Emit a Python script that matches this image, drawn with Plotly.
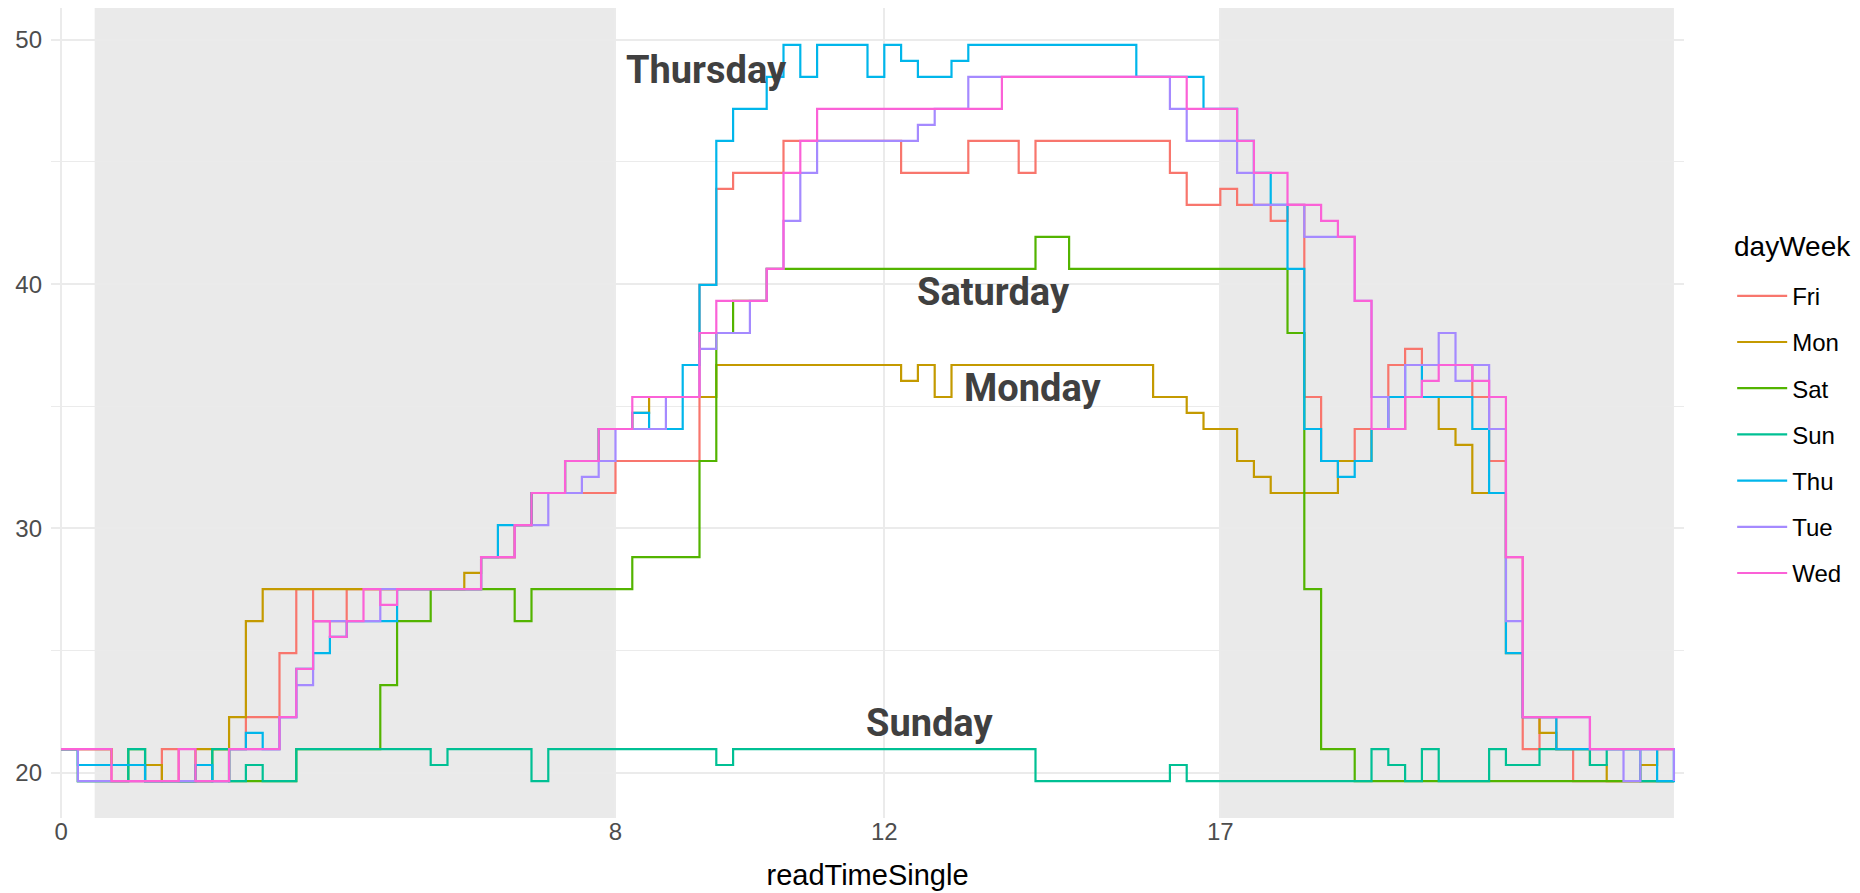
import plotly.graph_objects as go

# readTimeSingle slots (discrete levels, one step per reading)
slot = list(range(97))
tick_slots = [0, 33, 49, 69]
tick_text = ["0", "8", "12", "17"]

# off-hours bands (slot ranges)
night_start = [2, 69]
night_end = [33, 96]

fri = [20.97, 20.97, 20.97, 19.66, 19.66, 19.66, 20.97, 19.66, 19.66, 19.66,
       20.97, 22.28, 22.28, 24.90, 27.52, 26.21, 26.21, 27.52, 27.52, 27.52,
       27.52, 27.52, 27.52, 27.52, 27.52, 28.83, 28.83, 30.14, 31.45, 31.45,
       31.45, 31.45, 31.45, 32.76, 32.76, 32.76, 32.76, 32.76, 39.97, 43.90,
       44.55, 44.55, 44.55, 45.86, 45.86, 45.86, 45.86, 45.86, 45.86, 45.86,
       44.55, 44.55, 44.55, 44.55, 45.86, 45.86, 45.86, 44.55, 45.86, 45.86,
       45.86, 45.86, 45.86, 45.86, 45.86, 45.86, 44.55, 43.24, 43.24, 43.90,
       43.24, 43.24, 42.59, 43.24, 35.38, 32.76, 32.76, 34.07, 34.07, 36.69,
       37.35, 36.69, 36.69, 36.69, 35.38, 32.76, 28.83, 20.97, 22.28, 20.97,
       19.66, 19.66, 19.66, 19.66, 19.66, 19.66, 19.66]

mon = [20.97, 20.97, 20.97, 20.32, 20.32, 20.32, 19.66, 19.66, 20.97, 20.97,
       22.28, 26.21, 27.52, 27.52, 27.52, 27.52, 27.52, 27.52, 27.52, 27.52,
       27.52, 27.52, 27.52, 27.52, 28.18, 28.83, 28.83, 30.14, 31.45, 31.45,
       32.76, 32.76, 34.07, 34.07, 34.73, 35.38, 35.38, 35.38, 35.38, 36.69,
       36.69, 36.69, 36.69, 36.69, 36.69, 36.69, 36.69, 36.69, 36.69, 36.69,
       36.04, 36.69, 35.38, 36.69, 36.69, 36.69, 36.69, 36.69, 36.69, 36.69,
       36.69, 36.69, 36.69, 36.69, 36.69, 35.38, 35.38, 34.73, 34.07, 34.07,
       32.76, 32.11, 31.45, 31.45, 31.45, 31.45, 32.76, 32.76, 34.07, 34.07,
       35.38, 35.38, 34.07, 33.42, 31.45, 31.45, 24.90, 22.28, 21.63, 20.97,
       20.97, 20.32, 19.66, 19.66, 20.32, 20.97, 20.97]

sat = [20.97, 19.66, 19.66, 19.66, 20.97, 19.66, 19.66, 19.66, 19.66, 20.97,
       19.66, 19.66, 19.66, 19.66, 20.97, 20.97, 20.97, 20.97, 20.97, 23.59,
       26.21, 26.21, 27.52, 27.52, 27.52, 27.52, 27.52, 26.21, 27.52, 27.52,
       27.52, 27.52, 27.52, 27.52, 28.83, 28.83, 28.83, 28.83, 32.76, 38.00,
       39.31, 39.31, 40.62, 40.62, 40.62, 40.62, 40.62, 40.62, 40.62, 40.62,
       40.62, 40.62, 40.62, 40.62, 40.62, 40.62, 40.62, 40.62, 41.93, 41.93,
       40.62, 40.62, 40.62, 40.62, 40.62, 40.62, 40.62, 40.62, 40.62, 40.62,
       40.62, 40.62, 40.62, 38.00, 27.52, 20.97, 20.97, 19.66, 19.66, 19.66,
       19.66, 19.66, 19.66, 19.66, 19.66, 19.66, 19.66, 19.66, 19.66, 19.66,
       19.66, 19.66, 19.66, 19.66, 19.66, 19.66, 19.66]

sun = [20.97, 19.66, 19.66, 19.66, 20.97, 19.66, 19.66, 19.66, 19.66, 20.97,
       19.66, 20.32, 19.66, 19.66, 20.97, 20.97, 20.97, 20.97, 20.97, 20.97,
       20.97, 20.97, 20.32, 20.97, 20.97, 20.97, 20.97, 20.97, 19.66, 20.97,
       20.97, 20.97, 20.97, 20.97, 20.97, 20.97, 20.97, 20.97, 20.97, 20.32,
       20.97, 20.97, 20.97, 20.97, 20.97, 20.97, 20.97, 20.97, 20.97, 20.97,
       20.97, 20.97, 20.97, 20.97, 20.97, 20.97, 20.97, 20.97, 19.66, 19.66,
       19.66, 19.66, 19.66, 19.66, 19.66, 19.66, 20.32, 19.66, 19.66, 19.66,
       19.66, 19.66, 19.66, 19.66, 19.66, 19.66, 19.66, 19.66, 20.97, 20.32,
       19.66, 20.97, 19.66, 19.66, 19.66, 20.97, 20.32, 20.32, 20.97, 20.97,
       20.97, 20.32, 20.97, 20.97, 19.66, 19.66, 19.66]

thu = [20.97, 20.32, 20.32, 20.32, 20.32, 19.66, 19.66, 19.66, 20.32, 19.66,
       20.97, 21.63, 20.97, 22.28, 24.25, 24.90, 25.56, 26.21, 26.21, 26.21,
       27.52, 27.52, 27.52, 27.52, 27.52, 28.83, 30.14, 30.14, 31.45, 31.45,
       32.76, 32.76, 34.07, 34.07, 34.73, 34.07, 34.07, 36.69, 39.97, 45.86,
       47.17, 47.17, 48.48, 49.79, 48.48, 49.79, 49.79, 49.79, 48.48, 49.79,
       49.14, 48.48, 48.48, 49.14, 49.79, 49.79, 49.79, 49.79, 49.79, 49.79,
       49.79, 49.79, 49.79, 49.79, 48.48, 48.48, 48.48, 48.48, 47.17, 47.17,
       45.86, 44.55, 43.24, 40.62, 34.07, 32.76, 32.11, 32.76, 34.07, 35.38,
       36.69, 35.38, 35.38, 35.38, 34.07, 31.45, 24.90, 22.28, 22.28, 20.97,
       20.97, 20.97, 20.97, 20.97, 20.97, 19.66, 20.97]

tue = [20.97, 19.66, 19.66, 19.66, 19.66, 19.66, 19.66, 19.66, 19.66, 19.66,
       20.97, 20.97, 20.97, 22.28, 23.59, 26.21, 26.21, 26.21, 26.21, 27.52,
       27.52, 27.52, 27.52, 27.52, 27.52, 28.83, 28.83, 30.14, 30.14, 31.45,
       31.45, 32.11, 32.76, 34.07, 34.07, 34.07, 35.38, 35.38, 37.35, 38.00,
       38.00, 39.31, 40.62, 42.59, 44.55, 45.86, 45.86, 45.86, 45.86, 45.86,
       45.86, 46.52, 47.17, 47.17, 48.48, 48.48, 48.48, 48.48, 48.48, 48.48,
       48.48, 48.48, 48.48, 48.48, 48.48, 48.48, 47.17, 45.86, 45.86, 45.86,
       44.55, 43.24, 43.24, 43.24, 41.93, 41.93, 41.93, 39.31, 35.38, 34.07,
       36.69, 36.69, 38.00, 36.04, 36.69, 34.07, 26.21, 22.28, 22.28, 22.28,
       22.28, 20.97, 20.97, 19.66, 20.97, 20.97, 19.66]

wed = [20.97, 20.97, 20.97, 19.66, 19.66, 19.66, 19.66, 20.97, 19.66, 19.66,
       20.97, 20.97, 20.97, 22.28, 24.25, 26.21, 25.56, 26.21, 27.52, 26.87,
       27.52, 27.52, 27.52, 27.52, 27.52, 28.83, 28.83, 30.14, 31.45, 31.45,
       32.76, 32.76, 34.07, 34.07, 35.38, 35.38, 35.38, 35.38, 38.00, 39.31,
       39.31, 39.31, 40.62, 44.55, 45.86, 47.17, 47.17, 47.17, 47.17, 47.17,
       47.17, 47.17, 47.17, 47.17, 47.17, 47.17, 48.48, 48.48, 48.48, 48.48,
       48.48, 48.48, 48.48, 48.48, 48.48, 48.48, 48.48, 47.17, 47.17, 47.17,
       45.86, 44.55, 44.55, 43.24, 43.24, 42.59, 41.93, 39.31, 34.07, 34.07,
       35.38, 36.04, 36.69, 36.69, 36.04, 35.38, 28.83, 22.28, 22.28, 22.28,
       22.28, 20.97, 20.97, 20.97, 20.97, 20.97, 20.97]

day_names = ["Fri", "Mon", "Sat", "Sun", "Thu", "Tue", "Wed"]
day_series = [fri, mon, sat, sun, thu, tue, wed]
day_colors = ["#F8766D", "#C49A00", "#53B400", "#00C094", "#00B6EB", "#A58AFF", "#FB61D7"]

# in-plot day labels: text, slot position, value
label_text = ["Thursday", "Saturday", "Monday", "Sunday"]
label_x = [38.4, 55.5, 57.8, 51.7]
label_y = [48.75, 39.68, 35.73, 22.04]

fig = go.Figure()

for name, vals, col in zip(day_names, day_series, day_colors):
    fig.add_trace(go.Scatter(
        x=slot, y=vals, mode="lines", name=name, legendgroup=name,
        line=dict(shape="hv", color=col, width=2.2),
    ))

for x0, x1 in zip(night_start, night_end):
    fig.add_shape(type="rect", xref="x", yref="paper", x0=x0, x1=x1, y0=0, y1=1,
                  fillcolor="rgba(190,190,190,0.33)", line=dict(width=0), layer="between")

for t, x, y in zip(label_text, label_x, label_y):
    fig.add_annotation(x=x, y=y, xref="x", yref="y", text="<b>" + t + "</b>",
                       showarrow=False, xanchor="center", yanchor="middle",
                       font=dict(family="Roboto", size=38, color="#404040"))

# legend title
fig.add_annotation(x=1.0295, y=0.705, xref="paper", yref="paper", text="dayWeek",
                   showarrow=False, xanchor="left", yanchor="middle",
                   font=dict(size=28, color="#000000"))

base_font = "Liberation Sans, Arial, sans-serif"
fig.update_layout(
    width=1860, height=893,
    margin=dict(l=51, r=176, t=8, b=75),
    paper_bgcolor="white", plot_bgcolor="white",
    font=dict(family=base_font, color="#000000"),
    legend=dict(
        x=1.0295, xanchor="left", y=0.672, yanchor="top",
        font=dict(size=24, color="#000000"),
        itemwidth=50, tracegroupgap=12, bgcolor="rgba(0,0,0,0)",
    ),
    xaxis=dict(
        range=[-0.6, 96.6], tickmode="array", tickvals=tick_slots, ticktext=tick_text,
        showgrid=True, gridcolor="#EBEBEB", gridwidth=2, zeroline=False, showline=False,
        ticks="", tickfont=dict(size=24, color="#4D4D4D"), ticklabelstandoff=-3,
        title=dict(text="readTimeSingle", font=dict(size=29, color="#000000"), standoff=20),
        automargin=False,
    ),
    yaxis=dict(
        range=[18.15, 51.30], tickmode="array", tickvals=[20, 30, 40, 50],
        showgrid=True, gridcolor="#EBEBEB", gridwidth=2, zeroline=False, showline=False,
        ticks="", tickfont=dict(size=24, color="#4D4D4D"), ticklabelstandoff=8,
        minor=dict(tickmode="array", tickvals=[25, 35, 45], showgrid=True,
                   gridcolor="#EBEBEB", gridwidth=1.3),
        automargin=False,
    ),
)

fig.write_html("out.html")
